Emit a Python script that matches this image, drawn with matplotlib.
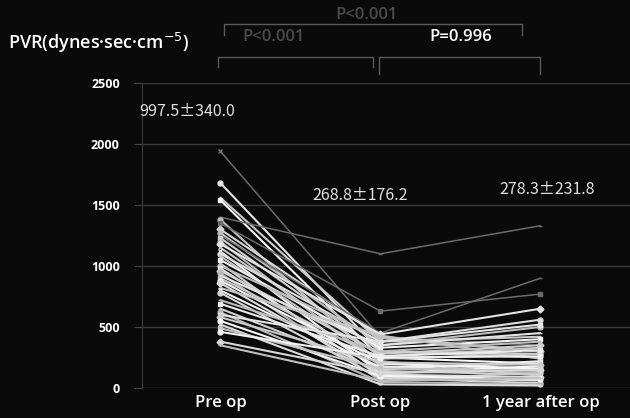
import matplotlib
matplotlib.use("Agg")
import matplotlib.pyplot as plt
from matplotlib.lines import Line2D

# PVR per patient: pre op, post op, 1 year after op
categories = ["Pre op", "Post op", "1 year after op"]
pre_op = [1940, 1680, 1560, 1540, 1400, 1380, 1350, 1300, 1270, 1250, 1230, 1200, 1180, 1150,
          1120, 1100, 1080, 1050, 1020, 1000, 980, 960, 940, 920, 900, 880, 860, 820, 800, 780,
          720, 690, 650, 620, 600, 580, 550, 520, 490, 460, 380, 350]
post_op = [420, 300, 380, 250, 1100, 200, 630, 420, 350, 450, 300, 180, 440, 260, 120, 380,
           220, 330, 90, 410, 150, 280, 60, 350, 240, 200, 110, 430, 170, 80, 300, 260, 140, 50,
           380, 210, 100, 30, 160, 250, 120, 60]
one_year = [350, 280, 420, 200, 1330, 150, 770, 300, 500, 900, 250, 120, 650, 330, 180, 560,
            100, 400, 60, 300, 220, 350, 130, 450, 280, 160, 90, 240, 200, 40, 380, 310, 110, 30,
            520, 190, 70, 20, 140, 260, 150, 80]
summary = ["997.5\u00b1340.0", "268.8\u00b1176.2", "278.3\u00b1231.8"]
y_ticks = [0, 500, 1000, 1500, 2000, 2500]

# darker lines for the few outliers, the rest light grey / white
dark = {0, 4, 6, 9}
markers = ["x", "o", "_", "s", "_", "o", "s", "D", "o", "_", "s", "o", "D", "_"]

plt.rcParams["font.family"] = ["Open Sans", "DejaVu Sans"]
bg = "#0a0a0a"
fig = plt.figure(figsize=(6.3, 4.18), dpi=100, facecolor=bg)
ax = fig.add_axes([142 / 630, 1 - 388 / 418, 1 - 142 / 630, (388 - 83) / 418], facecolor=bg)

for i in range(len(pre_op)):
    if i in dark:
        c = (0.42, 0.42, 0.42)
        lw = 1.1
    else:
        g = 0.72 + 0.25 * ((i * 7) % 11) / 10
        c = (g, g, g)
        lw = 1.5
    ax.plot([0, 1, 2], [pre_op[i], post_op[i], one_year[i]], color=c, lw=lw,
            marker=markers[i % len(markers)], ms=3.5, mec=c, mfc=c, solid_capstyle="round")

ax.set_xlim(-0.49, 2.56)
ax.set_ylim(0, 2500)
ax.set_yticks(y_ticks)
ax.set_yticklabels([str(v) for v in y_ticks], color="white", fontsize=9, fontweight="bold")
ax.set_xticks([0, 1, 2])
ax.set_xticklabels(categories, color="white", fontsize=12, fontweight="semibold")
ax.tick_params(axis="y", length=6, color="#444444", pad=10)
ax.tick_params(axis="x", length=0, pad=5)
ax.grid(axis="y", color="#3a3a3a", lw=1.0)
ax.set_axisbelow(True)
for s in ["top", "right", "bottom"]:
    ax.spines[s].set_visible(False)
ax.spines["left"].set_color("#3a3a3a")

# mean +/- SD labels (wide CJK plus-minus sign)
lab_font = ["Noto Sans CJK JP", "DejaVu Sans"]
ax.text(-0.21, 2270, summary[0], color="#e0e0e0", fontsize=11.5, ha="center", va="center",
        family=lab_font)
ax.text(0.87, 1580, summary[1], color="#e0e0e0", fontsize=11.5, ha="center", va="center",
        family=lab_font)
ax.text(2.04, 1630, summary[2], color="#e0e0e0", fontsize=11.5, ha="center", va="center",
        family=lab_font)

# axis title and significance brackets in figure pixels
def px(x, y):
    return x / 630, 1 - y / 418

fig.text(*px(8, 43), "PVR(dynes\u00b7sec\u00b7cm$^{-5}$)", color="white", fontsize=13,
         fontweight="semibold", ha="left", va="center")

def bracket(x0, x1, y, y_end, color):
    xs = [x0, x0, x1, x1]
    ys = [y_end, y, y, y_end]
    fig.add_artist(Line2D([v / 630 for v in xs], [1 - v / 418 for v in ys],
                          color=color, lw=1.0, transform=fig.transFigure))

bracket(224, 522, 24, 35, "#5a5a5a")
bracket(218, 373, 57, 67, "#5a5a5a")
bracket(379, 540, 57, 74, "#5a5a5a")
fig.text(*px(367, 15), "P<0.001", color="#4a4a4a", fontsize=12, fontweight="semibold",
         ha="center", va="center")
fig.text(*px(274, 37), "P<0.001", color="#4a4a4a", fontsize=12, fontweight="semibold",
         ha="center", va="center")
fig.text(*px(461, 37), "P=0.996", color="white", fontsize=12, fontweight="semibold",
         ha="center", va="center")

fig.savefig("out.png", dpi=100, facecolor=bg)
